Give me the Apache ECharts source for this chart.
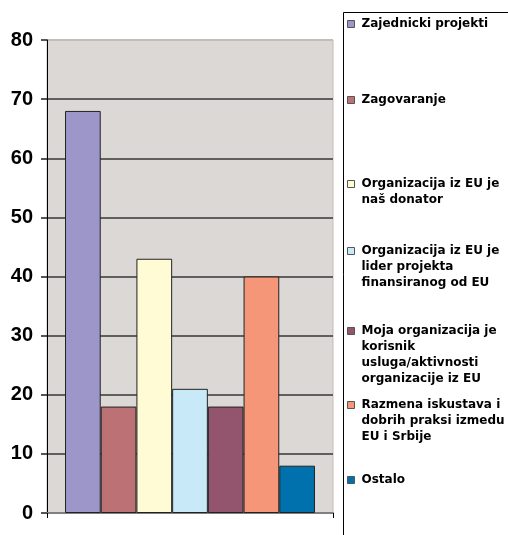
<html>
  <head>
    <meta charset="utf-8">
    <title>Saradnja sa organizacijama iz EU</title>
    <script src="https://cdn.jsdelivr.net/npm/echarts@6.0.0/dist/echarts.min.js"></script>
    <style>
      html, body { margin: 0; padding: 0; background: #fff; }
      #main { width: 508px; height: 535px; }
    </style>
  </head>
  <body>
    <div id="main"></div>
    <script type="text/javascript">
        // data
        var categories = [''];
        var seriesNames = [
          'Zajednicki projekti',
          'Zagovaranje',
          'Organizacija iz EU je naš donator',
          'Organizacija iz EU je lider projekta finansiranog od EU',
          'Moja organizacija je korisnik usluga/aktivnosti organizacije iz EU',
          'Razmena iskustava i dobrih praksi izmedu EU i Srbije',
          'Ostalo'
        ];
        var legendLabels = [
          'Zajednicki projekti',
          'Zagovaranje',
          'Organizacija iz EU je\nnaš donator',
          'Organizacija iz EU je\nlider projekta\nfinansiranog od EU',
          'Moja organizacija je\nkorisnik\nusluga/aktivnosti\norganizacije iz EU',
          'Razmena iskustava i\ndobrih praksi izmedu\nEU i Srbije',
          'Ostalo'
        ];
        var values = [68, 18, 43, 21, 18, 40, 8];
        var yTicks = [0, 10, 20, 30, 40, 50, 60, 70, 80];

        var colors = ['#9d97c9', '#bc7275', '#fffbd4', '#c8e9f7', '#93546e', '#f69679', '#0071ac'];
        // icon centre of each legend entry (px)
        var legendY = [24, 100, 184, 251, 331, 405, 480];
        var lineH = 16;

        var chartDom = document.getElementById('main');
        var myChart = echarts.init(chartDom);

        var series = seriesNames.map(function (name, i) {
          return {
            name: name,
            type: 'bar',
            barGap: 0,
            barCategoryGap: '12.6%',
            data: [values[i]],
            itemStyle: { color: colors[i], borderColor: '#222', borderWidth: 1 }
          };
        });

        // one legend per entry so each can sit at its own height,
        // blank lines before the text keep the icon level with the first line
        var legends = seriesNames.map(function (name, i) {
          var n = legendLabels[i].split('\n').length;
          var pad = new Array(n).join('\n');
          return {
            data: [name],
            left: 347,
            top: legendY[i] - (2 * n - 1) * lineH / 2,
            padding: 0,
            orient: 'vertical',
            selectedMode: false,
            itemWidth: 7,
            itemHeight: 7,
            icon: 'rect',
            itemStyle: { borderColor: '#555', borderWidth: 1 },
            formatter: function () { return pad + legendLabels[i]; },
            textStyle: {
              fontFamily: 'DejaVu Sans',
              fontWeight: 'bold',
              fontSize: 12,
              lineHeight: lineH,
              color: '#000',
              padding: [0, 0, 0, 2]
            }
          };
        });

        var gridColors = yTicks.map(function (v, i) {
          return i === yTicks.length - 1 ? '#c4bcb8' : '#5f5f5f';
        });

        var option = {
          animation: false,
          backgroundColor: '#fff',
          legend: legends,
          grid: {
            left: 47,
            right: 175,
            top: 40,
            bottom: 22,
            show: true,
            backgroundColor: '#dcd8d5',
            borderColor: '#c4bcb8',
            borderWidth: 1
          },
          graphic: [{
            type: 'rect',
            shape: { x: 343.5, y: 12.5, width: 200, height: 600 },
            style: { fill: 'none', stroke: '#000', lineWidth: 1 },
            silent: true,
            z: -1
          }],
          xAxis: {
            type: 'category',
            data: categories,
            axisLine: { lineStyle: { color: '#808080', width: 2 } },
            axisTick: { show: true, length: 5, lineStyle: { color: '#000' } },
            axisLabel: { show: false }
          },
          yAxis: {
            type: 'value',
            min: 0,
            max: 80,
            interval: 10,
            axisLine: { show: true, lineStyle: { color: '#000', width: 1 } },
            axisTick: { show: true, length: 6, lineStyle: { color: '#555', width: 2 } },
            axisLabel: {
              margin: 14,
              fontFamily: 'Liberation Sans',
              fontWeight: 'bold',
              fontSize: 20,
              color: '#000'
            },
            splitLine: { lineStyle: { color: gridColors, width: 2 } }
          },
          series: series
        };

        option && myChart.setOption(option);
    </script>
  </body>
</html>
